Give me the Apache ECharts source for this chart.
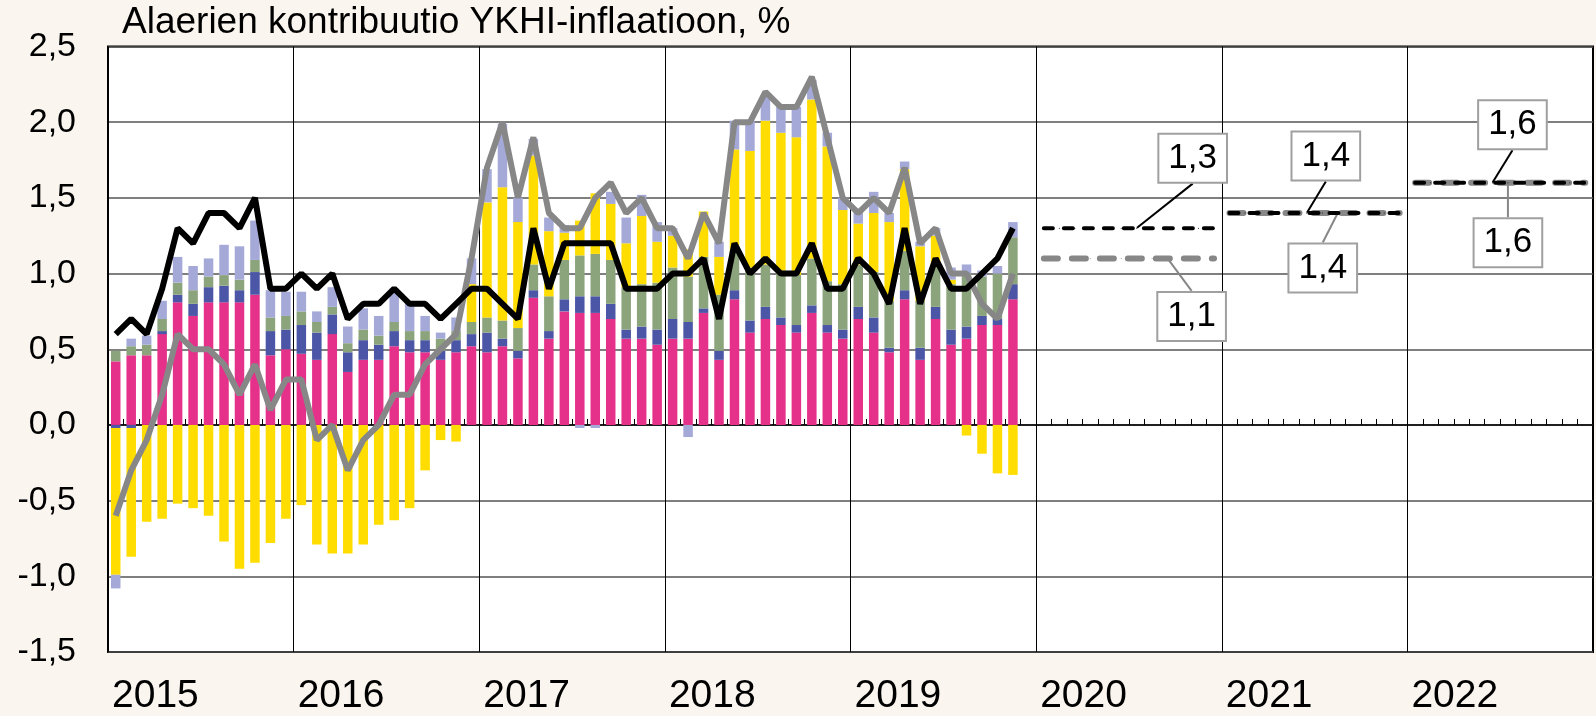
<!DOCTYPE html>
<html lang="fi">
<head>
<meta charset="UTF-8">
<title>Alaerien kontribuutio YKHI-inflaatioon</title>
<script src="https://cdn.jsdelivr.net/npm/echarts@6/dist/echarts.min.js"></script>
<style>
    * { margin: 0; padding: 0; }
    body { background: #faf5ef; }
    #chart { width: 1596px; height: 716px; }
</style>
</head>
<body>
<div id="chart"></div>
<script>
    // vuodet x-akselilla, kuukausittaiset kategoriat rakennetaan niistä
    var years = ['2015', '2016', '2017', '2018', '2019', '2020', '2021', '2022'];
    var months = [];
    years.forEach(function (y) {
        for (var m = 1; m <= 12; m++) months.push(y + '-' + (m < 10 ? '0' + m : m));
    });

    // alaerien kontribuutiot, %-yks. (1/2015 - 11/2019)
    var palvelut = [
        0.42, 0.46, 0.46, 0.60, 0.81, 0.72, 0.81, 0.81, 0.81, 0.86, 0.46, 0.50,
        0.47, 0.43, 0.60, 0.35, 0.43, 0.43, 0.52, 0.48, 0.48, 0.43, 0.48, 0.52,
        0.48, 0.52, 0.44, 0.84, 0.57, 0.75, 0.74, 0.74, 0.70, 0.57, 0.57, 0.53,
        0.57, 0.57, 0.74, 0.43, 0.83, 0.61, 0.70, 0.66, 0.61, 0.74, 0.61, 0.57,
        0.70, 0.61, 0.48, 0.83, 0.43, 0.70, 0.53, 0.57, 0.66, 0.66, 0.83
    ];
    var teollisuustuotteet = [
        -0.02, -0.02, 0.00, 0.02, 0.05, 0.08, 0.10, 0.11, 0.08, 0.15, 0.16, 0.13,
        0.19, 0.18, 0.13, 0.13, 0.13, 0.10, 0.10, 0.08, 0.08, 0.06, 0.08, 0.08,
        0.13, 0.05, 0.05, 0.05, 0.05, 0.08, 0.11, 0.11, 0.10, 0.06, 0.08, 0.10,
        0.13, 0.11, 0.03, 0.06, 0.06, 0.08, 0.08, 0.05, 0.05, 0.05, 0.05, 0.06,
        0.08, 0.10, 0.03, 0.06, 0.08, 0.08, 0.10, 0.08, 0.06, 0.04, 0.10
    ];
    var prosessoidut = [
        0.07, 0.06, 0.07, 0.08, 0.08, 0.09, 0.07, 0.07, 0.07, 0.08, 0.09, 0.09,
        0.09, 0.07, 0.05, 0.06, 0.07, 0.06, 0.06, 0.06, 0.06, 0.08, 0.06, 0.08,
        0.10, 0.12, 0.15, 0.17, 0.23, 0.26, 0.27, 0.28, 0.29, 0.28, 0.28, 0.31,
        0.34, 0.30, 0.34, 0.37, 0.26, 0.35, 0.28, 0.31, 0.33, 0.31, 0.29, 0.30,
        0.28, 0.30, 0.31, 0.26, 0.31, 0.28, 0.30, 0.35, 0.26, 0.30, 0.31
    ];
    var energia = [
        -0.97, -0.85, -0.64, -0.62, -0.52, -0.55, -0.60, -0.77, -0.95, -0.91, -0.78, -0.62,
        -0.53, -0.79, -0.85, -0.85, -0.79, -0.66, -0.63, -0.55, -0.30, -0.10, -0.11, 0.25,
        0.76, 0.88, 0.70, 0.72, 0.43, 0.18, 0.23, 0.40, 0.37, 0.29, 0.45, 0.27,
        0.21, 0.18, 0.30, 0.25, 0.67, 0.77, 0.95, 0.91, 0.91, 1.05, 0.89, 0.49,
        0.27, 0.39, 0.52, 0.54, 0.36, 0.19, 0.03, -0.07, -0.19, -0.32, -0.33
    ];
    var prosessoimattomat = [
        -0.09, 0.05, 0.06, 0.12, 0.17, 0.16, 0.12, 0.20, 0.22, 0.26, 0.18, 0.16,
        0.13, 0.07, 0.13, 0.11, 0.14, 0.13, 0.22, 0.19, 0.10, 0.04, 0.09, 0.17,
        0.22, 0.42, 0.16, 0.11, 0.09, 0.05, -0.02, -0.02, 0.08, 0.17, 0.14, 0.13,
        0.05, -0.08, 0.00, 0.10, 0.19, 0.20, 0.17, 0.18, 0.20, 0.13, 0.09, 0.08,
        0.09, 0.14, 0.06, 0.05, 0.03, 0.05, 0.08, 0.06, 0.04, 0.05, 0.10
    ];

    // YKHI (harmaa) ja pohjainflaatio (musta), %
    var ykhi = [
        -0.6, -0.3, -0.1, 0.2, 0.6, 0.5, 0.5, 0.4, 0.2, 0.4, 0.1, 0.3,
        0.3, -0.1, 0.0, -0.3, -0.1, 0.0, 0.2, 0.2, 0.4, 0.5, 0.6, 1.1,
        1.7, 2.0, 1.5, 1.9, 1.4, 1.3, 1.3, 1.5, 1.6, 1.4, 1.5, 1.3,
        1.3, 1.1, 1.4, 1.2, 2.0, 2.0, 2.2, 2.1, 2.1, 2.3, 1.9, 1.5,
        1.4, 1.5, 1.4, 1.7, 1.2, 1.3, 1.0, 1.0, 0.8, 0.7, 1.0
    ];
    var pohjainflaatio = [
        0.6, 0.7, 0.6, 0.9, 1.3, 1.2, 1.4, 1.4, 1.3, 1.5, 0.9, 0.9,
        1.0, 0.9, 1.0, 0.7, 0.8, 0.8, 0.9, 0.8, 0.8, 0.7, 0.8, 0.9,
        0.9, 0.8, 0.7, 1.3, 0.9, 1.2, 1.2, 1.2, 1.2, 0.9, 0.9, 0.9,
        1.0, 1.0, 1.1, 0.7, 1.2, 1.0, 1.1, 1.0, 1.0, 1.2, 0.9, 0.9,
        1.1, 1.0, 0.8, 1.3, 0.8, 1.1, 0.9, 0.9, 1.0, 1.1, 1.3
    ];

    // ennusteet vuosille
    var forecastYears = ['2020', '2021', '2022'];
    var pohjaEnnuste = [1.3, 1.4, 1.6];
    var ykhiEnnuste = [1.1, 1.4, 1.6];
    // kuukausi jonka kohdalle arvolaatikko kiinnitetään
    var pohjaLabelMonth = [6, 5, 5];
    var ykhiLabelMonth = [8, 7, 6];

    // laatikoiden siirrot (px)
    var pohjaLabelOffset = [[56, -70], [19, -57], [20, -58]];
    var ykhiLabelOffset = [[24, 58], [-15, 55], [0, 60]];

    var FONT = '"Liberation Sans", Arial, sans-serif';

    function fiNum(v) {
        return (+v).toFixed(1).replace('.', ',');
    }

    function barSeries(name, data, color) {
        return {
            name: name, type: 'bar', stack: 'ykhi', data: data,
            barWidth: 9.5, itemStyle: { color: color }, silent: true, z: 2
        };
    }

    function lineSeries(name, data, color, width) {
        return {
            name: name, type: 'line', data: data, showSymbol: false,
            lineStyle: { color: color, width: width }, itemStyle: { color: color },
            silent: true, z: 3
        };
    }

    var series = [
        barSeries('Palvelut', palvelut, '#e6318a'),
        barSeries('Teollisuustuotteet', teollisuustuotteet, '#4b56a6'),
        barSeries('Prosessoidut elintarvikkeet', prosessoidut, '#8ca47c'),
        barSeries('Energia', energia, '#ffdd00'),
        barSeries('Prosessoimattomat elintarvikkeet', prosessoimattomat, '#a4a9d8'),
        lineSeries('YKHI', ykhi, '#878787', 6),
        lineSeries('Pohjainflaatio', pohjainflaatio, '#000000', 6)
    ];

    var forecastStyles = [
        { name: 'YKHI ennuste', values: ykhiEnnuste, labelMonth: ykhiLabelMonth, off: ykhiLabelOffset,
          color: '#878787', width: 6, dash: [14, 14], z: 4 },
        { name: 'Pohjainflaatio ennuste', values: pohjaEnnuste, labelMonth: pohjaLabelMonth, off: pohjaLabelOffset,
          color: '#000000', width: 4, dash: [9, 11], z: 5 }
    ];

    forecastYears.forEach(function (yr, k) {
        var start = years.indexOf(yr) * 12;
        forecastStyles.forEach(function (s) {
            var data = [];
            for (var i = 0; i < start; i++) data.push(null);
            for (var m = 0; m < 12; m++) {
                if (m === s.labelMonth[k]) {
                    data.push({ value: s.values[k], label: { show: true } });
                } else {
                    data.push(s.values[k]);
                }
            }
            series.push({
                name: s.name + ' ' + yr, type: 'line', data: data,
                showSymbol: true, showAllSymbol: true, symbol: 'circle', symbolSize: 1,
                itemStyle: { color: s.color },
                lineStyle: { color: s.color, width: s.width, type: s.dash, cap: 'round' },
                label: {
                    show: false, position: 'inside',
                    formatter: function (p) { return fiNum(p.value); },
                    fontFamily: FONT, fontSize: 35, lineHeight: 35, color: '#000',
                    backgroundColor: '#fff', borderColor: '#a0a0a0', borderWidth: 2,
                    padding: [6, 9, 6, 9]
                },
                labelLayout: { dx: s.off[k][0], dy: s.off[k][1] },
                labelLine: { show: true, lineStyle: { color: s.color, width: 2 } },
                silent: true, z: s.z
            });
        });
    });

    var chart = echarts.init(document.getElementById('chart'));
    chart.setOption({
        backgroundColor: '#faf5ef',
        animation: false,
        title: {
            text: 'Alaerien kontribuutio YKHI-inflaatioon, %',
            left: 122, top: 4, padding: 0,
            textStyle: { fontFamily: FONT, fontSize: 37, fontWeight: 'normal', color: '#000' }
        },
        grid: {
            left: 108, top: 46.5, width: 1501, height: 608.8,
            show: true, backgroundColor: '#ffffff', borderColor: '#000', borderWidth: 2
        },
        xAxis: [{
            type: 'category', data: months,
            axisLine: { onZero: true, lineStyle: { color: '#000', width: 1.5 } },
            axisTick: { show: true, interval: 0, inside: true, length: 6, lineStyle: { color: '#000', width: 1 } },
            axisLabel: { show: false },
            splitLine: { show: false }
        }, {
            type: 'value', min: 0, max: 96, interval: 12, position: 'bottom',
            axisLine: { show: false, onZero: false },
            axisTick: { show: false },
            splitLine: { show: true, lineStyle: { color: '#000', width: 1 } },
            axisLabel: {
                formatter: function (v) { return years[v / 12] || ''; },
                align: 'left', margin: 25, padding: [0, 0, 0, 4],
                fontFamily: FONT, fontSize: 39, color: '#000'
            }
        }],
        yAxis: {
            type: 'value', min: -1.5, max: 2.5, interval: 0.5,
            axisLine: { show: false },
            axisTick: { show: false },
            axisLabel: { formatter: fiNum, margin: 32, fontFamily: FONT, fontSize: 34, color: '#000' },
            splitLine: { lineStyle: { color: '#555', width: 1.5 } }
        },
        series: series
    });
</script>
</body>
</html>
